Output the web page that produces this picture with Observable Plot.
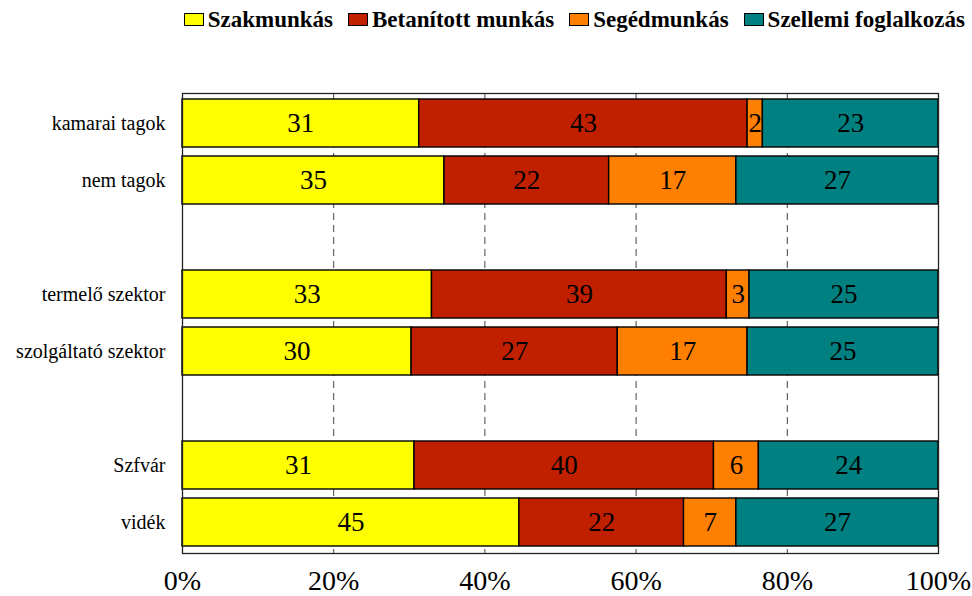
<!DOCTYPE html>
<html>
<head>
<meta charset="utf-8">
<script src="https://cdn.jsdelivr.net/npm/d3@7"></script>
<script src="https://cdn.jsdelivr.net/npm/@observablehq/plot@0.6"></script>
<style>
  html, body { margin: 0; padding: 0; background: #fff; font-family: 'Liberation Serif'; }
  #legend {
    height: 40px; display: flex; justify-content: flex-end; align-items: center;
    padding-right: 7px; box-sizing: border-box;
    font-family: 'Liberation Serif'; font-weight: bold; font-size: 23px; color: #000;
  }
  .item { display: flex; align-items: center; margin-left: 15px; }
  .sw { width: 20px; height: 13px; box-sizing: border-box; border: 1.5px solid #000; margin-right: 4px; margin-top: -1px; }
  #chart svg text { font-family: 'Liberation Serif'; }
</style>
</head>
<body>
<div id="legend"></div>
<div id="chart"></div>
<script>
const groups = ["kamarai tagok", "nem tagok", "termelő szektor", "szolgáltató szektor", "Szfvár", "vidék"];
const yDomain = ["kamarai tagok", "nem tagok", "gap1", "termelő szektor", "szolgáltató szektor", "gap2", "Szfvár", "vidék"];
const categories = ["Szakmunkás", "Betanított munkás", "Segédmunkás", "Szellemi foglalkozás"];
const szakmunkas = [31, 35, 33, 30, 31, 45];
const betanitott = [43, 22, 39, 27, 40, 22];
const segedmunkas = [2, 17, 3, 17, 6, 7];
const szellemi = [23, 27, 25, 25, 24, 27];
const colors = ["#FFFF00", "#C02000", "#FF8000", "#008080"];
const xTicks = [0, 0.2, 0.4, 0.6, 0.8, 1];
const gridTicks = [0.2, 0.4, 0.6, 0.8];

const series = [szakmunkas, betanitott, segedmunkas, szellemi];
const data = [];
categories.forEach((cat, i) => {
  groups.forEach((g, j) => data.push({group: g, cat, value: series[i][j]}));
});

// legend
const legend = document.getElementById("legend");
categories.forEach((c, i) => {
  const it = document.createElement("div");
  it.className = "item";
  const sw = document.createElement("div");
  sw.className = "sw";
  sw.style.background = colors[i];
  const t = document.createElement("span");
  t.textContent = c;
  t.style.fontFamily = "'Liberation Serif'";
  it.appendChild(sw); it.appendChild(t);
  legend.appendChild(it);
});

const FONT = "Liberation Serif";

const chart = Plot.plot({
  width: 972,
  height: 556,
  marginTop: 53,
  marginBottom: 43,
  marginLeft: 182,
  marginRight: 34,
  style: {fontFamily: "'Liberation Serif'", color: "#000", background: "#fff"},
  x: {domain: [0, 1], axis: null, label: null},
  y: {domain: yDomain, paddingInner: 0.15, paddingOuter: 0.075, axis: null, label: null},
  color: {domain: categories, range: colors},
  marks: [
    Plot.ruleX(gridTicks, {stroke: "#444", strokeDasharray: "7,5", strokeWidth: 1}),
    Plot.barX(data, Plot.stackX({
      x: "value", y: "group", z: "cat", fill: "cat", order: categories,
      offset: "normalize", stroke: "#000", strokeWidth: 1.4
    })),
    Plot.text(data, Plot.stackX({
      x: "value", y: "group", z: "cat", order: categories, offset: "normalize",
      text: "value", fill: "#000", fontSize: 27, fontFamily: FONT
    })),
    Plot.frame({stroke: "#222", strokeWidth: 1.3}),
    Plot.axisY({
      tickSize: 0, tickPadding: 17, fontSize: 20, label: null, fontFamily: FONT,
      tickFormat: d => d.startsWith("gap") ? "" : d
    }),
    Plot.axisX(xTicks, {
      tickSize: 0, tickPadding: 17, fontSize: 28, label: null, fontFamily: FONT,
      tickFormat: d => Math.round(d * 100) + "%"
    })
  ]
});
document.getElementById("chart").appendChild(chart);
</script>
</body>
</html>
